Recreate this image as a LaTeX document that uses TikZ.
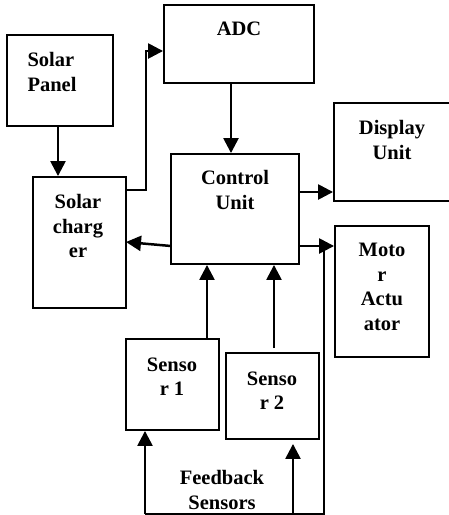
\documentclass[tikz,border=0pt]{standalone}
\usepackage{fontspec}
\setmainfont{Liberation Serif}
\usetikzlibrary{arrows.meta,calc}
\begin{document}
\begin{tikzpicture}[x=1pt,y=-1pt,
  box/.style={draw,line width=1.9pt,inner sep=0pt},
  lbl/.style={font=\fontsize{20.5}{24.5}\selectfont\bfseries,align=center,inner sep=0pt},
  arr/.style={line width=2.5pt,-{Triangle[length=15pt,width=15pt]}},
  ln/.style={line width=2.5pt}]
\useasboundingbox (0,0) rectangle (448,515);
% boxes
\node[box,minimum width=106pt,minimum height=91pt] (sp) at (60,80.5) {};
\node[box,minimum width=150pt,minimum height=78pt] (adc) at (239,44) {};
\node[box,minimum width=93pt,minimum height=131pt] (sc) at (79.5,242.5) {};
\node[box,minimum width=128pt,minimum height=110pt] (cu) at (235,209) {};
\node[box,minimum width=116pt,minimum height=98pt] (du) at (392,152) {};
\node[box,minimum width=94pt,minimum height=131pt] (ma) at (382,291.5) {};
\node[box,minimum width=93pt,minimum height=91pt] (s1) at (172.5,384.5) {};
\node[box,minimum width=93pt,minimum height=86pt] (s2) at (272.5,396) {};
% labels
\node[lbl,align=left] (tsp) at (52,72) {Solar\\Panel};
\node[lbl] (tadc) at (239,29) {ADC};
\node[lbl] (tcu) at (235,190) {Control\\Unit};
\node[lbl] (tdu) at (392,140) {Display\\Unit};
\node[lbl] (tsc) at (78,226) {Solar\\charg\\er};
\node[lbl] (tma) at (382,287) {Moto\\r\\Actu\\ator};
\node[lbl] (ts1) at (172,376.5) {Senso\\r 1};
\node[lbl] (ts2) at (272,390.5) {Senso\\r 2};
\node[lbl] (tfb) at (222,490) {Feedback\\Sensors};
% helper coordinates
\coordinate (xsp) at (58,0);
\coordinate (xadc) at (231,0);
\coordinate (ychg) at (0,190);
\coordinate (bend1) at (146,190);
\coordinate (bend2) at (146,51);
\coordinate (ydu) at (0,192);
\coordinate (ymot) at (0,246);
\coordinate (cul) at (171,246);
\coordinate (scr) at (126,242);
\coordinate (xs1) at (207,0);
\coordinate (xs2) at (274,0);
\coordinate (fb1) at (145,514);
\coordinate (fb2) at (293,514);
\coordinate (fb3) at (324,514);
% connectors
\draw[arr] (sp.south -| xsp) -- (sc.north -| xsp);
\draw[arr] (sc.east |- ychg) -- (bend1) -- (bend2) -- (adc.west |- bend2);
\draw[arr] (adc.south -| xadc) -- (cu.north -| xadc);
\draw[arr] (cu.east |- ydu) -- (du.west |- ydu);
\draw[arr] (cul) -- (scr);
\draw[arr] (cu.east |- ymot) -- (ma.west |- ymot);
\draw[arr] (s1.north -| xs1) -- (cu.south -| xs1);
\draw[arr] ($(s2.north -| xs2)+(0,-4)$) -- (cu.south -| xs2);
\draw[arr] (fb1) -- (s1.south -| fb1);
\draw[arr] (fb2) -- ($(s2.south -| fb2)+(0,4)$);
\draw[ln] (fb1) -- (fb3) -- (fb3 |- ymot);
\end{tikzpicture}
\end{document}
